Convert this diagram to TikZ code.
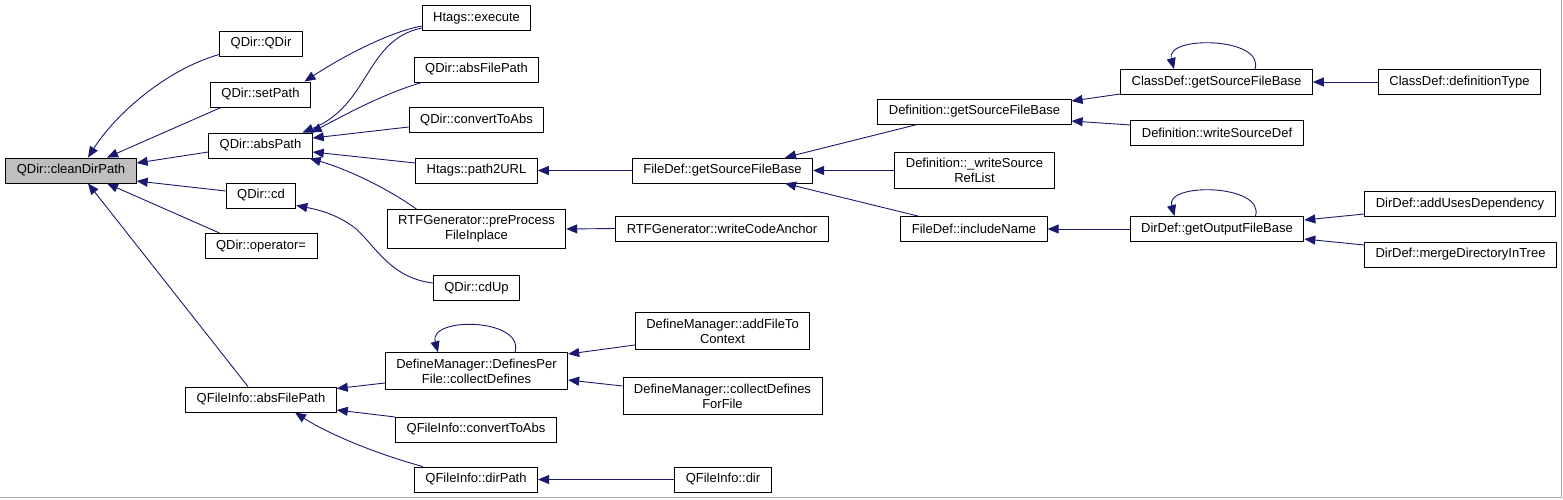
\documentclass[tikz,border=0pt]{standalone}
\usepackage{fontspec}
\setmainfont{Liberation Sans}
\usetikzlibrary{arrows.meta,positioning,calc}
\definecolor{edgeblue}{RGB}{25,25,112}
\definecolor{rootgray}{RGB}{191,191,191}
\tikzset{
  fnbox/.style={draw=black, fill=white, line width=0.9pt, inner xsep=11pt, inner ysep=6pt,
    minimum height=25pt, align=center, font=\fontsize{13}{15}\selectfont},
  rootbox/.style={fnbox, fill=rootgray},
  callarrow/.style={draw=edgeblue, line width=0.9pt, -{Triangle[length=11pt,width=9pt]}}
}

\begin{document}
\begin{tikzpicture}[x=1pt,y=-1pt]
    \useasboundingbox (0,0) rectangle (1563,499);
    % frame
    \draw[gray!70, line width=1.5pt] (0,497.5) -- (1561.5,497.5) -- (1561.5,0);

    % callers of cleanDirPath
    \node[rootbox] (clean) at (71,170.5) {QDir::cleanDirPath};
    \node[fnbox] (qdir) at (261,43.5) {QDir::QDir};
    \node[fnbox] (setpath) at (260.5,94.5) {QDir::setPath};
    \node[fnbox] (abspath) at (260.5,145.5) {QDir::absPath};
    \node[fnbox] (cd) at (261,195.5) {QDir::cd};
    \node[fnbox] (opeq) at (261,246) {QDir::operator=};
    \node[fnbox] (fiabs) at (261,399.5) {QFileInfo::absFilePath};

    % third column
    \node[fnbox] (execute) at (476.5,18) {Htags::execute};
    \node[fnbox] (qabsfile) at (476.5,69.5) {QDir::absFilePath};
    \node[fnbox] (qconv) at (476.5,120) {QDir::convertToAbs};
    \node[fnbox] (path2url) at (476.5,170.5) {Htags::path2URL};
    \node[fnbox] (rtfpre) at (476.5,229) {RTFGenerator::preProcess\\FileInplace};
    \node[fnbox] (cdup) at (476.5,288) {QDir::cdUp};
    \node[fnbox] (collect) at (476.5,371) {DefineManager::DefinesPer\\File::collectDefines};
    \node[fnbox] (ficonv) at (476,429.5) {QFileInfo::convertToAbs};
    \node[fnbox] (dirpath) at (476,479.5) {QFileInfo::dirPath};

    % fourth column
    \node[fnbox] (fdsrc) at (722.5,170.5) {FileDef::getSourceFileBase};
    \node[fnbox] (rtfwrite) at (722,228.5) {RTFGenerator::writeCodeAnchor};
    \node[fnbox] (addfile) at (722.5,331) {DefineManager::addFileTo\\Context};
    \node[fnbox] (collectfor) at (722.5,396) {DefineManager::collectDefines\\ForFile};
    \node[fnbox] (fidir) at (723,479.5) {QFileInfo::dir};

    % fifth column
    \node[fnbox] (defsrc) at (974.5,111.5) {Definition::getSourceFileBase};
    \node[fnbox] (reflist) at (974.5,170.5) {Definition::\_writeSource\\RefList};
    \node[fnbox] (inclname) at (974,229) {FileDef::includeName};

    % sixth and seventh column
    \node[fnbox] (cdsrc) at (1216.5,82) {ClassDef::getSourceFileBase};
    \node[fnbox] (srcdef) at (1217,133) {Definition::writeSourceDef};
    \node[fnbox] (dirout) at (1217,229) {DirDef::getOutputFileBase};
    \node[fnbox] (deftype) at (1459.5,82) {ClassDef::definitionType};
    \node[fnbox] (adduses) at (1460,204) {DirDef::addUsesDependency};
    \node[fnbox] (mergedir) at (1460.5,254.5) {DirDef::mergeDirectoryInTree};

    % edges into cleanDirPath
    \draw[callarrow] ([yshift=2pt]qdir.south west) .. controls (165,70) and (115,115) .. ([xshift=17pt]clean.north);
    \draw[callarrow] ([xshift=11pt]setpath.south west) -- ([xshift=36pt]clean.north);
    \draw[callarrow] ([yshift=-6.5pt]abspath.west) -- ([yshift=7.5pt]clean.east);
    \draw[callarrow] ([yshift=4.5pt]cd.west) -- ([yshift=-10.5pt]clean.east);
    \draw[callarrow] ([xshift=15pt]opeq.north west) -- ([xshift=36pt]clean.south);
    \draw[callarrow] ([xshift=-13pt]fiabs.north) -- ([xshift=17pt]clean.south);

    % edges into setPath, absPath, cd
    \draw[callarrow] ([yshift=-8pt]execute.west) .. controls (390,32) and (345,55) .. ([xshift=44pt]setpath.north);
    \draw[callarrow] ([yshift=-10pt]execute.west) .. controls (365,40) and (370,105) .. ([xshift=42pt]abspath.north);
    \draw[callarrow] ([xshift=8pt]qabsfile.south west) .. controls (380,95) and (345,115) .. ([xshift=-2pt]abspath.north east);
    \draw[callarrow] ([yshift=-7pt]qconv.west) -- ([yshift=7.5pt]abspath.east);
    \draw[callarrow] ([yshift=7.5pt]path2url.west) -- ([yshift=-6.5pt]abspath.east);
    \draw[callarrow] ([xshift=-60pt]rtfpre.north) .. controls (390,190) and (350,170) .. ([xshift=-3pt]abspath.south east);
    \draw[callarrow] ([yshift=5pt]cdup.west) .. controls (390,278) and (375,245) .. (355,228) .. controls (338,215) and (320,210) .. ([yshift=3pt]cd.south east);

    % FileDef::getSourceFileBase branch
    \draw[callarrow] (fdsrc.west) -- (path2url.east);
    \draw[callarrow] (rtfwrite.west) -- (rtfpre.east);
    \draw[callarrow] ([xshift=40pt]defsrc.south west) -- ([xshift=62.5pt]fdsrc.north);
    \draw[callarrow] (reflist.west) -- (fdsrc.east);
    \draw[callarrow] ([xshift=-56pt]inclname.north) -- ([xshift=62.5pt]fdsrc.south);
    \draw[callarrow] ([yshift=-12pt]cdsrc.west) -- ([yshift=10.5pt]defsrc.east);
    \draw[callarrow] ([yshift=8pt]srcdef.west) -- ([yshift=-9.5pt]defsrc.east);
    \draw[callarrow] (deftype.west) -- (cdsrc.east);
    \draw[callarrow] ([xshift=38.5pt]cdsrc.north) .. controls (1265,37) and (1165,35) .. ([xshift=-42.5pt]cdsrc.north);
    \draw[callarrow] (dirout.west) -- (inclname.east);
    \draw[callarrow] ([xshift=38.5pt]dirout.north) .. controls (1265,184) and (1165,182) .. ([xshift=-42.5pt]dirout.north);
    \draw[callarrow] ([yshift=-10pt]adduses.west) -- ([yshift=9pt]dirout.east);
    \draw[callarrow] ([yshift=9.5pt]mergedir.west) -- ([yshift=-10pt]dirout.east);

    % QFileInfo branch
    \draw[callarrow] ([yshift=-12pt]collect.west) -- ([yshift=11pt]fiabs.east);
    \draw[callarrow] ([yshift=12.5pt]ficonv.west) -- ([yshift=-10.5pt]fiabs.east);
    \draw[callarrow] ([xshift=-53pt]dirpath.north) .. controls (380,455) and (330,435) .. ([xshift=34pt]fiabs.south);
    \draw[callarrow] ([yshift=-14pt]addfile.west) -- ([yshift=17pt]collect.east);
    \draw[callarrow] ([yshift=10pt]collectfor.west) -- ([yshift=-9pt]collect.east);
    \draw[callarrow] ([xshift=38.5pt]collect.north) .. controls (525,318) and (428,316) .. ([xshift=-38.5pt]collect.north);
    \draw[callarrow] (fidir.west) -- (dirpath.east);
\end{tikzpicture}
\end{document}
